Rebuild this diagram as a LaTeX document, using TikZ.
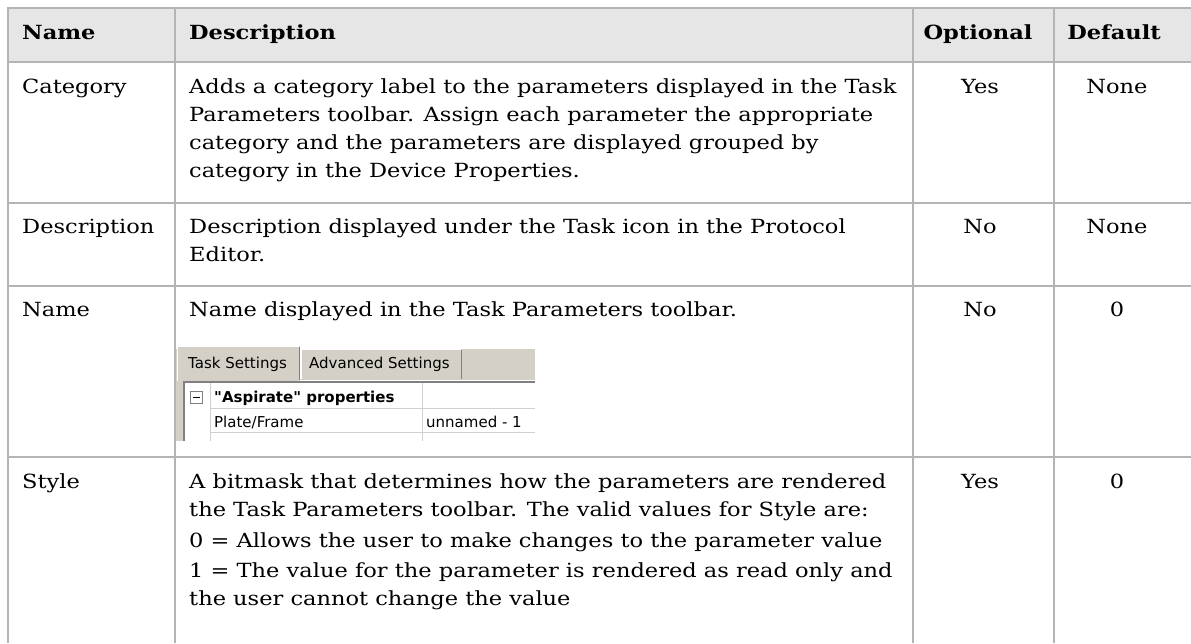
\documentclass[tikz,border=0pt]{standalone}
\usepackage{fontspec}
\setmainfont[FakeStretch=1.155]{DejaVu Serif}
\newfontfamily\uifont{DejaVu Sans}
\usepackage{xcolor}
\definecolor{rulegray}{HTML}{B4B4B4}
\definecolor{headgray}{HTML}{E6E6E6}
\definecolor{wingray}{HTML}{D4D0C8}
\definecolor{windark}{HTML}{808080}
\definecolor{gridgray}{HTML}{D0D0D0}

\begin{document}
\begin{tikzpicture}[x=1pt,y=-1pt,
  txt/.style={anchor=base west, inner sep=0pt, font=\fontsize{19.5}{19.5}\selectfont},
  ctr/.style={anchor=base, inner sep=0pt, font=\fontsize{19.5}{19.5}\selectfont},
  ui/.style={anchor=base west, inner sep=0pt, font=\uifont\fontsize{15}{15}\selectfont},
  rule/.style={rulegray, line width=2pt}]
\useasboundingbox (0,0) rectangle (1191,643);

% header row
\fill [headgray] (8,8) rectangle (1191,62);
\node (hname) [txt] at (22,39) {\bfseries Name};
\node (hdesc) [txt] at (189,39) {\bfseries Description};
\node (hopt) [ctr] at (978,39) {\bfseries Optional};
\node (hdef) [ctr] at (1114,39) {\bfseries Default};

% Category
\node (catname) [txt] at (22,93) {Category};
\node (catd1) [txt] at (189,93) {Adds a category label to the parameters displayed in the Task};
\node (catd2) [txt] at (189,121) {Parameters toolbar. Assign each parameter the appropriate};
\node (catd3) [txt] at (189,149) {category and the parameters are displayed grouped by};
\node (catd4) [txt] at (189,177) {category in the Device Properties.};
\node (catopt) [ctr] at (980,93) {Yes};
\node (catdef) [ctr] at (1117,93) {None};

% Description
\node (desname) [txt] at (22,233) {Description};
\node (desd1) [txt] at (189,233) {Description displayed under the Task icon in the Protocol};
\node (desd2) [txt] at (189,261) {Editor.};
\node (desopt) [ctr] at (980,233) {No};
\node (desdef) [ctr] at (1117,233) {None};

% Name
\node (namname) [txt] at (22,316) {Name};
\node (namd1) [txt] at (189,316) {Name displayed in the Task Parameters toolbar.};
\node (namopt) [ctr] at (980,316) {No};
\node (namdef) [ctr] at (1117,316) {0};

% screenshot of the settings panel
\fill [wingray] (176,349) rectangle (535,441);
\fill [wingray] (177,346) rectangle (300,381);
\draw [white, line width=1.5pt] (177.5,381) -- (177.5,346.5) -- (299,346.5);
\draw [windark, line width=1.5pt] (299.5,347) -- (299.5,380);
\draw [white, line width=1.5pt] (301,379) -- (301,349.5) -- (461,349.5);
\draw [windark, line width=1.5pt] (461.5,350) -- (461.5,379);
\draw [white, line width=1.5pt] (300,380.5) -- (535,380.5);
\node (tab1) [ui] at (188,368) {Task Settings};
\node (tab2) [ui] at (309,368) {Advanced Settings};
\fill [white] (184,382) rectangle (535,441);
\draw [windark, line width=2pt] (184,441) -- (184,382) -- (535,382);
\draw [gridgray, line width=1pt] (210,383) -- (210,441);
\draw [gridgray, line width=1pt] (422,383) -- (422,441);
\draw [gridgray, line width=1pt] (210,408) -- (535,408);
\draw [gridgray, line width=1pt] (210,432.5) -- (535,432.5);
\draw [windark, line width=1pt] (190,391) rectangle (202,403);
\draw [black, line width=1pt] (192.5,397) -- (199.5,397);
\node (prop) [ui] at (214,402) {\bfseries "Aspirate" properties};
\node (plate) [ui] at (214,427) {Plate/Frame};
\node (unnam) [ui] at (426,427) {unnamed - 1};

% Style
\node (styname) [txt] at (22,488) {Style};
\node (styd1) [txt] at (189,488) {A bitmask that determines how the parameters are rendered};
\node (styd2) [txt] at (189,516) {the Task Parameters toolbar. The valid values for Style are:};
\node (styd3) [txt] at (189,547) {0 = Allows the user to make changes to the parameter value};
\node (styd4) [txt] at (189,577) {1 = The value for the parameter is rendered as read only and};
\node (styd5) [txt] at (189,605) {the user cannot change the value};
\node (styopt) [ctr] at (980,488) {Yes};
\node (stydef) [ctr] at (1117,488) {0};

% rules
\draw [rule] (8,8) -- (1191,8);
\draw [rule] (8,62) -- (1191,62);
\draw [rule] (8,203) -- (1191,203);
\draw [rule] (8,286) -- (1191,286);
\draw [rule] (8,457) -- (1191,457);
\draw [rule] (8,7) -- (8,643);
\draw [rule] (175,7) -- (175,643);
\draw [rule] (913,7) -- (913,643);
\draw [rule] (1054,7) -- (1054,643);
\end{tikzpicture}
\end{document}
